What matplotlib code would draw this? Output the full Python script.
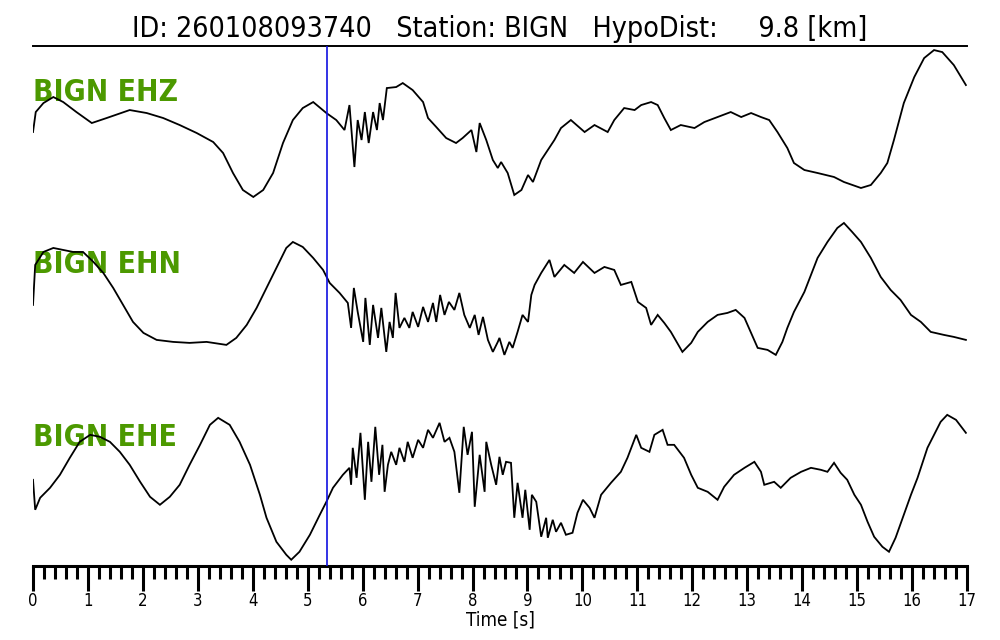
import matplotlib
matplotlib.use("Agg")
import matplotlib.pyplot as plt
import numpy as np

# ---------------- data ----------------
title_text = "ID: 260108093740   Station: BIGN   HypoDist:     9.8 [km]"
channels = ["BIGN EHZ", "BIGN EHN", "BIGN EHE"]
pick_time = 5.35
xticks_major = list(range(0, 18))

ehz_t = [0.0, 0.05, 0.19, 0.37, 0.55, 0.79, 1.07, 1.34, 1.76, 2.07, 2.37, 2.67, 2.98, 3.28, 3.46, 3.64,
         3.82, 4.01, 4.19, 4.37, 4.55, 4.73, 4.91, 5.10, 5.34, 5.52, 5.67, 5.76, 5.85, 5.91, 5.98, 6.04,
         6.11, 6.19, 6.26, 6.31, 6.37, 6.44, 6.61, 6.73, 6.91, 7.10, 7.19, 7.34, 7.52, 7.70, 7.82, 7.98,
         8.07, 8.13, 8.25, 8.37, 8.46, 8.52, 8.64, 8.76, 8.89, 9.01, 9.10, 9.25, 9.37, 9.49, 9.61, 9.79,
         10.04, 10.22, 10.46, 10.58, 10.76, 10.95, 11.07, 11.25, 11.37, 11.49, 11.61, 11.79, 12.04, 12.22,
         12.46, 12.70, 12.89, 13.07, 13.25, 13.40, 13.55, 13.73, 13.85, 14.04, 14.28, 14.58, 14.76, 15.07,
         15.25, 15.43, 15.55, 15.67, 15.85, 16.04, 16.22, 16.40, 16.55, 16.76, 16.98]
ehz_a = [-10, 10, 19, 25, 20, 10, -1, 4, 12, 9, 4, -3, -11, -20, -31, -51,
         -68, -75, -68, -51, -21, 2, 14, 20, 9, 2, -8, 17, -45, 2, -18, 10,
         -21, 10, -8, 19, 2, 34, 35, 39, 32, 20, 4, -5, -16, -21, -16, -8,
         -30, -1, -18, -38, -46, -40, -51, -73, -68, -53, -60, -38, -28, -18, -6, 2,
         -10, -3, -10, 2, 14, 12, 17, 20, 17, 4, -8, -3, -6, 0,
         5, 10, 5, 9, 5, 2, -10, -26, -41, -48, -51, -55, -60, -66,
         -63, -51, -41, -18, 19, 45, 64, 72, 70, 57, 37]

ehn_t = [0.0, 0.04, 0.19, 0.37, 0.55, 0.73, 0.91, 1.10, 1.28, 1.46, 1.64, 1.82, 2.01, 2.25, 2.55, 2.85,
         3.16, 3.52, 3.70, 3.89, 4.07, 4.25, 4.43, 4.61, 4.73, 4.91, 5.10, 5.28, 5.40, 5.58, 5.73, 5.79,
         5.84, 5.91, 6.01, 6.05, 6.13, 6.19, 6.28, 6.34, 6.43, 6.49, 6.55, 6.60, 6.67, 6.76, 6.85, 6.91,
         7.01, 7.10, 7.19, 7.28, 7.34, 7.41, 7.49, 7.57, 7.67, 7.76, 7.85, 7.95, 8.04, 8.11, 8.19, 8.28,
         8.37, 8.46, 8.49, 8.58, 8.67, 8.73, 8.82, 8.91, 9.01, 9.07, 9.13, 9.25, 9.40, 9.49, 9.67, 9.85,
         10.01, 10.22, 10.40, 10.58, 10.70, 10.89, 11.01, 11.16, 11.25, 11.37, 11.49, 11.61, 11.82, 11.98,
         12.10, 12.28, 12.46, 12.64, 12.79, 12.95, 13.07, 13.19, 13.37, 13.52, 13.64, 13.73, 13.85, 14.04,
         14.16, 14.28, 14.46, 14.64, 14.76, 14.91, 15.07, 15.25, 15.43, 15.61, 15.79, 15.98, 16.16, 16.34,
         16.58, 16.76, 16.98]
ehn_a = [-10, 30, 43, 47, 45, 43, 43, 33, 22, 7, -10, -27, -38, -45, -47, -48,
         -47, -50, -43, -30, -13, 7, 27, 47, 53, 48, 37, 25, 12, 2, -8, -33,
         7, -17, -47, -3, -50, -10, -43, -13, -57, -27, -43, 2, -33, -23, -33, -17,
         -32, -12, -27, -8, -27, 0, -20, -7, -15, 2, -20, -33, -20, -40, -22, -45,
         -57, -47, -43, -60, -47, -53, -37, -20, -27, 0, 10, 22, 35, 18, 30, 22,
         33, 22, 28, 25, 10, 13, -7, -13, -30, -20, -28, -37, -57, -48,
         -37, -27, -20, -18, -15, -23, -38, -53, -55, -60, -47, -33, -17, 3,
         20, 37, 53, 67, 72, 63, 53, 37, 18, 5, -5, -20, -27, -37,
         -40, -42, -45]

ehe_t = [0.0, 0.04, 0.13, 0.31, 0.49, 0.67, 0.85, 1.04, 1.22, 1.40, 1.58, 1.76, 1.95, 2.13, 2.31, 2.49,
         2.67, 2.85, 3.04, 3.22, 3.37, 3.58, 3.76, 3.95, 4.13, 4.25, 4.43, 4.61, 4.70, 4.85, 5.04, 5.22,
         5.34, 5.46, 5.64, 5.76, 5.79, 5.82, 5.89, 5.96, 6.04, 6.10, 6.16, 6.23, 6.30, 6.36, 6.40, 6.46,
         6.52, 6.61, 6.67, 6.76, 6.82, 6.91, 7.01, 7.10, 7.19, 7.28, 7.40, 7.49, 7.58, 7.67, 7.76, 7.84,
         7.91, 7.99, 8.04, 8.13, 8.22, 8.25, 8.34, 8.43, 8.49, 8.55, 8.61, 8.70, 8.76, 8.82, 8.91, 8.96,
         9.04, 9.08, 9.16, 9.25, 9.34, 9.37, 9.46, 9.52, 9.61, 9.70, 9.82, 9.91, 10.01, 10.13, 10.22, 10.34,
         10.52, 10.70, 10.82, 10.98, 11.07, 11.22, 11.31, 11.46, 11.55, 11.67, 11.85, 11.98, 12.10, 12.28,
         12.46, 12.58, 12.76, 12.95, 13.13, 13.25, 13.31, 13.49, 13.61, 13.79, 13.98, 14.16, 14.34, 14.46,
         14.58, 14.70, 14.82, 14.95, 15.07, 15.19, 15.31, 15.46, 15.58, 15.70, 15.85, 15.98, 16.10, 16.28,
         16.40, 16.52, 16.64, 16.80, 16.98]
ehe_a = [-12, -42, -30, -20, -7, 10, 26, 33, 31, 26, 16, 3, -14, -29, -37, -29,
         -17, 3, 23, 43, 50, 43, 26, 3, -27, -50, -74, -87, -92, -84, -67, -47,
         -34, -20, -7, 0, -17, 20, -10, 35, -32, 26, -14, 41, -7, 23, -24, 3,
         16, 3, 20, 6, 26, 10, 28, 20, 38, 30, 45, 26, 30, 16, -25, 41,
         13, 36, -39, 13, -24, 26, 3, -17, 11, -7, 6, 5, -50, -15, -50, -22,
         -62, -27, -34, -69, -50, -70, -52, -64, -55, -67, -65, -45, -32, -40, -50, -27,
         -15, -4, 10, 33, 20, 16, 33, 38, 23, 23, 10, -7, -20, -24,
         -32, -19, -7, 0, 6, -4, -17, -14, -20, -10, -4, 0, -2, -4,
         5, -5, -12, -27, -37, -54, -69, -79, -84, -70, -47, -27, -10, 20,
         33, 46, 53, 48, 35]

traces_t = [ehz_t, ehn_t, ehe_t]
traces_a = [ehz_a, ehn_a, ehe_a]

# ---------------- layout / style ----------------
spacing = 173.0
label_color = "#4c9900"
cond = dict(family="DejaVu Sans", stretch="condensed")

fig = plt.figure(figsize=(10, 6.4), dpi=100)
ax = fig.add_axes([0.033, 0.116, 0.934, 0.812])

for i, (t, a) in enumerate(zip(traces_t, traces_a)):
    off = -i * spacing
    ax.plot(np.array(t), np.array(a, dtype=float) + off, color="black", lw=1.3,
            solid_joinstyle="miter", zorder=3)
    ax.text(0.0, off + 30, channels[i], color=label_color, fontsize=21.5,
            fontweight="bold", ha="left", va="center", zorder=1, **cond)

ax.axvline(pick_time, color="#1010e0", lw=1.2, zorder=4)

ax.set_xlim(0, 17)
ax.set_ylim(-444, 76)
ax.set_yticks([])
ax.set_xticks(xticks_major)
ax.set_xticks(np.arange(0, 17.01, 0.2), minor=True)
ax.tick_params(axis="x", which="major", direction="out", length=18, width=2.2,
               labelsize=12, pad=1)
ax.tick_params(axis="x", which="minor", direction="out", length=9, width=2.2)
for lab in ax.get_xticklabels():
    lab.set_fontstretch("condensed")
ax.spines["left"].set_visible(False)
ax.spines["right"].set_visible(False)
ax.spines["top"].set_linewidth(1.4)
ax.spines["bottom"].set_linewidth(2.2)
ax.set_xlabel("Time [s]", fontsize=13.5, labelpad=0, **cond)

fig.text(0.5, 0.955, title_text, ha="center", va="center", fontsize=20.5, **cond)

fig.savefig("out.png", dpi=100)
